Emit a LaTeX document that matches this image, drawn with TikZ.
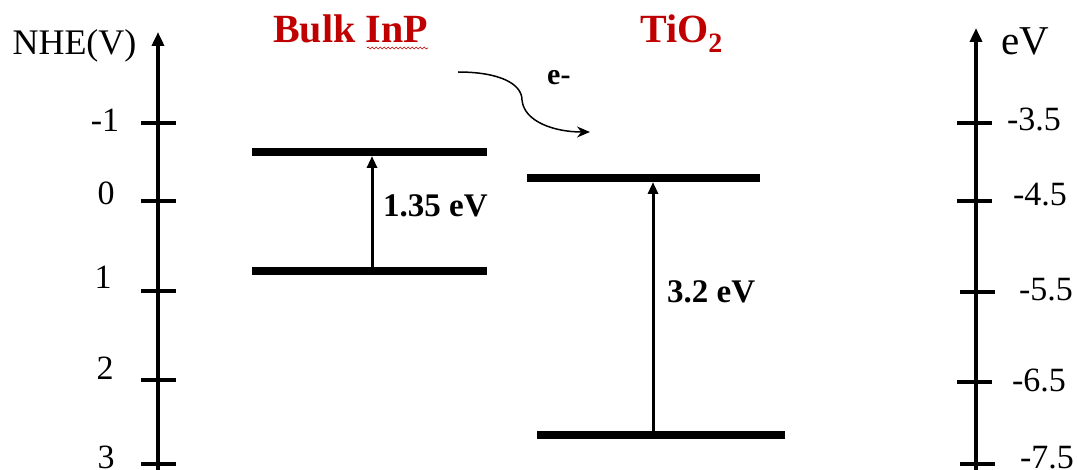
\documentclass[tikz,border=0pt]{standalone}
\usepackage{fontspec}
\setmainfont{Liberation Serif}
\usetikzlibrary{arrows.meta,decorations.pathmorphing}
\definecolor{titlered}{RGB}{192,0,0}
\tikzset{
  axisline/.style={line width=4pt,-{Triangle[length=14pt,width=12pt]}},
  tickline/.style={line width=4pt},
  level/.style={line width=8pt},
  gaparrow/.style={line width=3pt,-{Triangle[length=12pt,width=10pt]}},
  axlabel/.style={inner sep=0pt,font=\fontsize{34}{40}\selectfont},
  gaplabel/.style={inner sep=0pt,anchor=west,font=\fontsize{33}{38}\selectfont\bfseries},
  titlelabel/.style={inner sep=0pt,text=titlered,font=\fontsize{40}{46}\selectfont\bfseries},
  flow/.style={line width=1.5pt,-{Stealth[length=13pt,width=11pt]}}
}
\begin{document}
\begin{tikzpicture}[x=1pt,y=-1pt]
\useasboundingbox (0,0) rectangle (1078,470);
% left axis
\coordinate (LB) at (158,480);
\coordinate (LT) at (158,32);
\draw[axisline] (LB) -- (LT);
\foreach \y/\n in {123/a,201/b,291/c,380/d,464/e}{
  \coordinate (lt\n1) at (141,\y);
  \coordinate (lt\n2) at (176,\y);
  \draw[tickline] (lt\n1) -- (lt\n2);
}
\node[axlabel,anchor=base,font=\fontsize{36}{42}\selectfont] (nhe) at (74.5,55) {NHE(V)};
\node[axlabel] (lm1) at (105,120) {-1};
\node[axlabel] (l0) at (106,193) {0};
\node[axlabel] (l1) at (103,277) {1};
\node[axlabel] (l2) at (105,368) {2};
\node[axlabel] (l3) at (106,457) {3};
% right axis
\coordinate (RB) at (976,480);
\coordinate (RT) at (976,28);
\draw[axisline] (RB) -- (RT);
\foreach \y/\n/\xa/\xb in {123/a/957/992,201/b/957/992,292/c/960/995,382/d/957/992,464/e/960/995}{
  \coordinate (rt\n1) at (\xa,\y);
  \coordinate (rt\n2) at (\xb,\y);
  \draw[tickline] (rt\n1) -- (rt\n2);
}
\node[axlabel,anchor=base,font=\fontsize{41}{46}\selectfont] (ev) at (1025,55) {eV};
\node[axlabel] (r35) at (1034,119) {-3.5};
\node[axlabel] (r45) at (1040,195) {-4.5};
\node[axlabel] (r55) at (1046,290) {-5.5};
\node[axlabel] (r65) at (1039,380) {-6.5};
\node[axlabel] (r75) at (1047,458) {-7.5};
% titles
\node[titlelabel,anchor=base] (inp) at (350.5,43) {Bulk InP};
\draw[titlered,line width=0.6pt,decorate,decoration={snake,amplitude=1pt,segment length=4pt}]
  (367,48) coordinate (sq1) -- (428,48) coordinate (sq2);
\node[titlelabel,anchor=base west] (tio) at (640,43) {TiO\textsubscript{2}};
% InP levels
\coordinate (icb1) at (252,152); \coordinate (icb2) at (487,152);
\coordinate (ivb1) at (252,271); \coordinate (ivb2) at (487,271);
\draw[level] (icb1) -- (icb2);
\draw[level] (ivb1) -- (ivb2);
\coordinate (iga) at (372,271); \coordinate (igb) at (372,156);
\draw[gaparrow] (iga) -- (igb);
\node[gaplabel] (g1) at (383,206) {1.35 eV};
% TiO2 levels
\coordinate (tcb1) at (527,178); \coordinate (tcb2) at (760,178);
\coordinate (tvb1) at (537,435); \coordinate (tvb2) at (785,435);
\draw[level] (tcb1) -- (tcb2);
\draw[level] (tvb1) -- (tvb2);
\coordinate (tga) at (653,435); \coordinate (tgb) at (653,182);
\draw[gaparrow] (tga) -- (tgb);
\node[gaplabel] (g2) at (667,292) {3.2 eV};
% electron transfer
\coordinate (es) at (458,72);
\coordinate (em) at (522,100);
\coordinate (ee) at (590,132);
\draw[flow] (es) .. controls (500,72) and (522,84) .. (em) .. controls (524,122) and (555,132) .. (ee);
\node[inner sep=0pt,anchor=base west,font=\fontsize{30}{34}\selectfont\bfseries] (el) at (547,85) {e-};
\end{tikzpicture}
\end{document}
